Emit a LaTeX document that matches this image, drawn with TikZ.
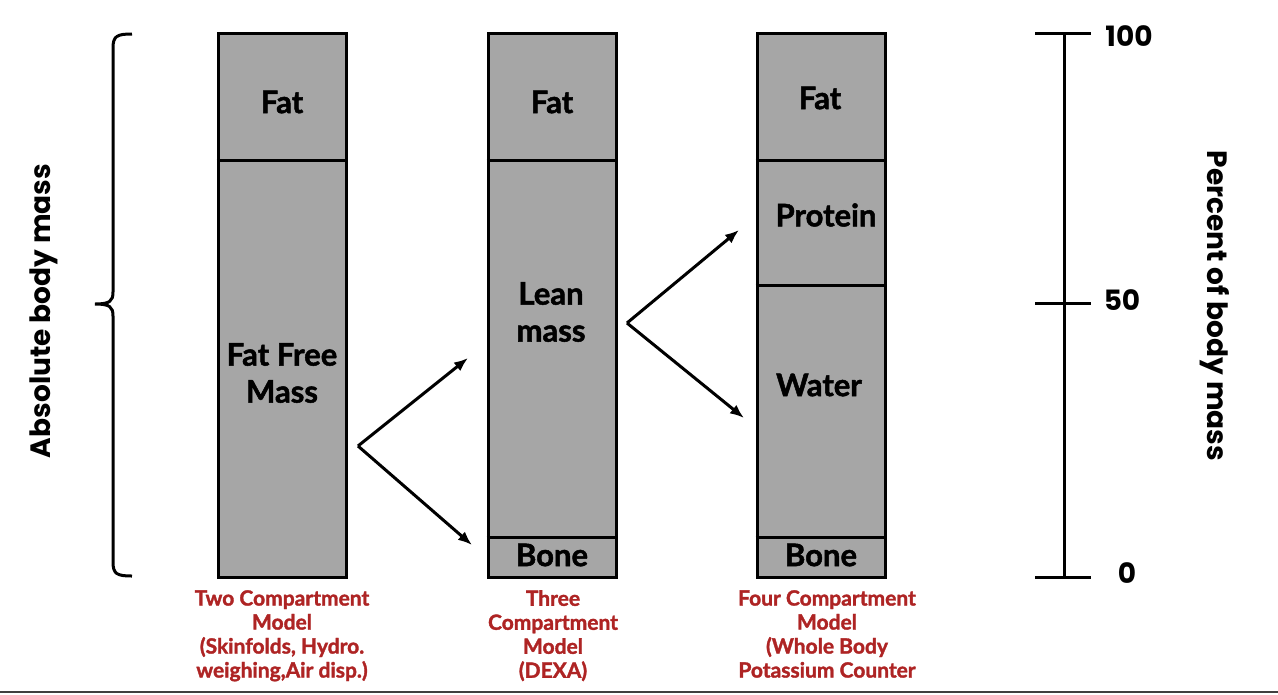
\documentclass[tikz,border=0pt]{standalone}
\usepackage{fontspec}
\setmainfont{Lato}[BoldFeatures={FakeBold=1.6}]
\newfontfamily\axisfont{Poppins}
\usetikzlibrary{arrows.meta,positioning}
\definecolor{segfill}{RGB}{166,166,166}
\definecolor{capred}{RGB}{174,36,36}
\tikzset{
  column/.style={draw, line width=3pt, fill=segfill, minimum width=128pt, minimum height=544pt, inner sep=0pt},
  part/.style={font=\fontsize{31}{37}\selectfont\bfseries, align=center, inner sep=0pt},
  caption/.style={text=capred, font=\fontsize{21}{24}\selectfont\bfseries, align=center, anchor=north, inner sep=0pt},
  axislabel/.style={font=\axisfont\fontsize{28}{32}\selectfont\bfseries, inner sep=0pt},
  divider/.style={line width=3pt},
  ->/.style={-{Latex[length=14pt,width=11pt]}, line width=3pt},
  scaleline/.style={line width=3pt}
}
\begin{document}
\begin{tikzpicture}[x=1pt,y=-1pt]
\useasboundingbox (0,0) rectangle (1278,694);

% Columns
\node[column] (two) at (282,305) {};
\node[column] (three) at (552,305) {};
\node[column] (four) at (821,305) {};

% Dividers
\draw[divider] (two.west |- 0,160) -- (two.east |- 0,160);
\draw[divider] (three.west |- 0,160) -- (three.east |- 0,160);
\draw[divider] (three.west |- 0,537) -- (three.east |- 0,537);
\draw[divider] (four.west |- 0,160) -- (four.east |- 0,160);
\draw[divider] (four.west |- 0,285) -- (four.east |- 0,285);
\draw[divider] (four.west |- 0,537) -- (four.east |- 0,537);

% Compartment labels
\node[part] (twoFat) at (282,102) {Fat};
\node[part] (twoFFM) at (282,373) {Fat Free\\Mass};
\node[part] (threeFat) at (552,102) {Fat};
\node[part] (threeLean) at (551,312) {Lean\\mass};
\node[part] (threeBone) at (552,555) {Bone};
\node[part] (fourFat) at (820,98) {Fat};
\node[part] (fourProtein) at (826,215) {Protein};
\node[part] (fourWater) at (819,385) {Water};
\node[part] (fourBone) at (821,555) {Bone};

% Captions
\node[caption] (twoCap) at (282,590) {Two Compartment\\Model\\(Skinfolds, Hydro.\\weighing,Air disp.)};
\node[caption] (threeCap) at (553,590) {Three\\Compartment\\Model\\(DEXA)};
\node[caption] (fourCap) at (827,590) {Four Compartment\\Model\\(Whole Body\\Potassium Counter};

% Split arrows
\coordinate (splitTwo) at (358,446);
\coordinate (leanEnd) at (468,358);
\coordinate (boneEnd) at (472,545);
\draw[->] (splitTwo) -- (leanEnd);
\draw[->] (splitTwo) -- (boneEnd);
\coordinate (splitThree) at (627,323);
\coordinate (proteinEnd) at (739,230);
\coordinate (waterEnd) at (744,418);
\draw[->] (splitThree) -- (proteinEnd);
\draw[->] (splitThree) -- (waterEnd);

% Absolute mass brace
\coordinate (braceTop) at (132,34);
\coordinate (braceTip) at (95,304);
\coordinate (braceBot) at (132,576);
\draw[line width=3pt] (braceTop) .. controls (117,34) and (113,36) .. (113,48)
  -- (113,292) .. controls (113,301) and (110,304) .. (braceTip)
  .. controls (110,304) and (113,307) .. (113,316)
  -- (113,562) .. controls (113,574) and (117,576) .. (braceBot);
\node[axislabel, rotate=90] (absLabel) at (44,311) {Absolute body mass};

% Percent scale
\coordinate (scaleTop) at (1064,33);
\coordinate (scaleMid) at (1064,303);
\coordinate (scaleBot) at (1064,577);
\draw[scaleline] (scaleTop) -- (scaleBot);
\draw[scaleline] ([xshift=-29pt]scaleTop) -- ([xshift=27pt]scaleTop);
\draw[scaleline] ([xshift=-29pt]scaleMid) -- ([xshift=27pt]scaleMid);
\draw[scaleline] ([xshift=-29pt]scaleBot) -- ([xshift=27pt]scaleBot);
\node[axislabel] (hundred) at (1129,36) {100};
\node[axislabel] (fifty) at (1122,300) {50};
\node[axislabel] (zero) at (1127,573) {0};
\node[axislabel, rotate=-90] (pctLabel) at (1215,306) {Percent of body mass};

% Bottom rule
\draw[line width=1.5pt, black!75] (0,692) -- (1278,692);

\end{tikzpicture}
\end{document}
